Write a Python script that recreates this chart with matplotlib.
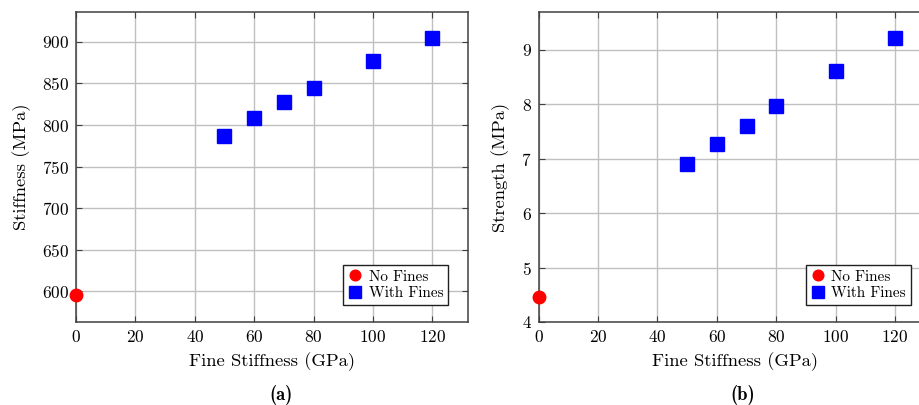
import matplotlib
matplotlib.use('Agg')
import matplotlib.pyplot as plt

plt.rcParams['font.family'] = 'serif'
plt.rcParams['font.serif'] = ['cmr10', 'DejaVu Serif']
plt.rcParams['mathtext.fontset'] = 'cm'
plt.rcParams['axes.formatter.use_mathtext'] = True

# data
fine_stiffness = [50, 60, 70, 80, 100, 120]
stiffness_with = [787, 808, 828, 845, 877, 905]
strength_with = [6.90, 7.26, 7.59, 7.96, 8.61, 9.21]
no_fines_x = [0]
stiffness_none = [595]
strength_none = [4.46]

x_ticks = [0, 20, 40, 60, 80, 100, 120]
stiff_ticks = [600, 650, 700, 750, 800, 850, 900]
str_ticks = [4, 5, 6, 7, 8, 9]

fig = plt.figure(figsize=(9.19, 4.05), dpi=100)
W, H = 919.0, 405.0
ax1 = fig.add_axes([76 / W, 1 - 322 / H, 392 / W, 310 / H])
ax2 = fig.add_axes([538.7 / W, 1 - 322 / H, 392 / W, 310 / H])


def style(ax, ylab, yticks, ylim):
    ax.set_xlim(0, 132)
    ax.set_ylim(*ylim)
    ax.set_xticks(x_ticks)
    ax.set_yticks(yticks)
    ax.grid(True, color='#c0c0c0', linewidth=1.0)
    ax.set_axisbelow(True)
    ax.tick_params(direction='in', length=4, width=0.8, labelsize=12.5,
                   top=True, right=True, color='#404040', pad=5)
    for s in ax.spines.values():
        s.set_color('#404040')
        s.set_linewidth(1.1)
    ax.set_xlabel('Fine Stiffness (GPa)', fontsize=13.4, labelpad=5)
    ax.set_ylabel(ylab, fontsize=13.4, labelpad=8)
    ax.legend(loc='lower right', bbox_to_anchor=(0.949, 0.055),
              fontsize=11, frameon=True, fancybox=False,
              edgecolor='#202020', framealpha=1, borderpad=0.3,
              handletextpad=0.4, handlelength=1.0, labelspacing=0.2,
              borderaxespad=0, markerscale=0.85)


ax1.plot(no_fines_x, stiffness_none, 'o', color='red', markersize=9,
         label='No Fines', clip_on=False, zorder=5)
ax1.plot(fine_stiffness, stiffness_with, 's', color='blue', markersize=9.5,
         label='With Fines', zorder=5)
style(ax1, 'Stiffness (MPa)', stiff_ticks, (563, 936))

ax2.plot(no_fines_x, strength_none, 'o', color='red', markersize=9,
         label='No Fines', clip_on=False, zorder=5)
ax2.plot(fine_stiffness, strength_with, 's', color='blue', markersize=9.5,
         label='With Fines', zorder=5)
style(ax2, 'Strength (MPa)', str_ticks, (4, 9.69))

fig.text(281 / W, 1 - 395 / H, '(a)', family='cmb10', fontsize=13.4,
         ha='center', va='center')
fig.text(743 / W, 1 - 395 / H, '(b)', family='cmb10', fontsize=13.4,
         ha='center', va='center')

fig.savefig('out.png', dpi=100)
